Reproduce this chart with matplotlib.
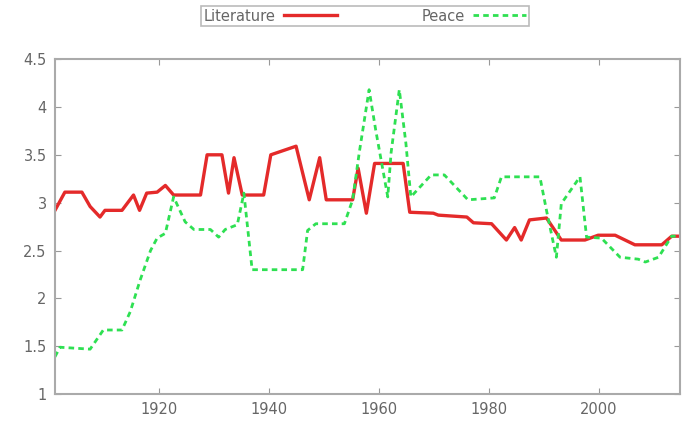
import matplotlib
matplotlib.use("Agg")
import matplotlib.pyplot as plt

# vertices (year, mean value)
lit_years = [1901, 1902.8, 1905.9, 1907.4, 1909.2, 1910.1, 1913.2, 1915.3, 1916.4, 1917.7,
             1919.6, 1921.1, 1922.6, 1927.5, 1928.7, 1931.4, 1932.6, 1933.6, 1935.1, 1939,
             1940.3, 1944.9, 1947.3, 1949.2, 1950.4, 1955.2, 1956.2, 1957.7, 1959.2, 1964.4,
             1965.6, 1969.9, 1970.8, 1976, 1977.2, 1980.5, 1983.2, 1984.7, 1985.9, 1987.4,
             1990.5, 1993.2, 1997.5, 1999.9, 2003, 2006.6, 2011.5, 2013.3, 2014.8]
lit_vals = [2.92, 3.11, 3.11, 2.96, 2.85, 2.92, 2.92, 3.08, 2.92, 3.10,
            3.11, 3.18, 3.08, 3.08, 3.50, 3.50, 3.10, 3.47, 3.08, 3.08,
            3.50, 3.59, 3.03, 3.47, 3.03, 3.03, 3.36, 2.89, 3.41, 3.41,
            2.90, 2.89, 2.87, 2.85, 2.79, 2.78, 2.61, 2.74, 2.61, 2.82,
            2.84, 2.61, 2.61, 2.66, 2.66, 2.56, 2.56, 2.65, 2.65]

peace_years = [1901, 1901.9, 1907.4, 1909.8, 1913.2, 1914.7, 1916.5, 1918.4, 1919.6, 1921.1,
               1922.6, 1924.7, 1926.3, 1929.3, 1930.8, 1932, 1934.2, 1935.4, 1936.9, 1946.1,
               1947, 1948.5, 1953.7, 1955.2, 1956.4, 1958.2, 1959.4, 1961.6, 1962.2, 1963.7,
               1964.9, 1965.8, 1969.5, 1971.9, 1976.2, 1981, 1982.3, 1989.3, 1990.5, 1992.3,
               1993.2, 1996.6, 1997.8, 2000.5, 2003.9, 2007.2, 2008.5, 2010.9, 2013.3, 2014.8]
peace_vals = [1.39, 1.49, 1.47, 1.67, 1.67, 1.86, 2.19, 2.50, 2.63, 2.68,
              3.06, 2.80, 2.72, 2.72, 2.64, 2.72, 2.77, 3.10, 2.30, 2.30,
              2.71, 2.78, 2.78, 3.03, 3.52, 4.18, 3.76, 3.06, 3.52, 4.18,
              3.62, 3.06, 3.29, 3.29, 3.03, 3.05, 3.27, 3.27, 2.92, 2.43,
              2.99, 3.27, 2.64, 2.63, 2.43, 2.41, 2.38, 2.43, 2.65, 2.65]

x_ticks = [1920, 1940, 1960, 1980, 2000]
y_ticks = [1, 1.5, 2, 2.5, 3, 3.5, 4, 4.5]
y_labels = ['1', '1.5', '2', '2.5', '3', '3.5', '4', '4.5']

fig = plt.figure(figsize=(6.83, 4.22), dpi=100)
ax = fig.add_axes([0.0805, 0.066, 0.915, 0.794])

ax.plot(lit_years, lit_vals, color='#e42a2a', lw=2.4, label='Literature')
ax.plot(peace_years, peace_vals, color='#2ee052', lw=2.0, ls=(0, (2.0, 1.5)), label='Peace')

ax.set_xlim(1901, 2014.8)
ax.set_ylim(1, 4.5)
ax.set_xticks(x_ticks)
ax.set_yticks(y_ticks)
ax.set_yticklabels(y_labels)
ax.tick_params(direction='in', top=True, right=True, length=4, color='#999999',
               labelsize=10.5, labelcolor='#666666', pad=6)
for s in ax.spines.values():
    s.set_color('#aaaaaa')
    s.set_linewidth(1.5)

leg = fig.legend(loc='center', bbox_to_anchor=(0.534, 0.962), ncol=2, markerfirst=False,
                 prop={'size': 10.5}, frameon=True, fancybox=False, handlelength=3.6,
                 handletextpad=0.6, columnspacing=5.8, borderpad=0.2, borderaxespad=0)
leg.get_frame().set_edgecolor('#aaaaaa')
leg.get_frame().set_linewidth(1.2)
for t in leg.get_texts():
    t.set_color('#666666')

fig.savefig('out.png', dpi=100)
